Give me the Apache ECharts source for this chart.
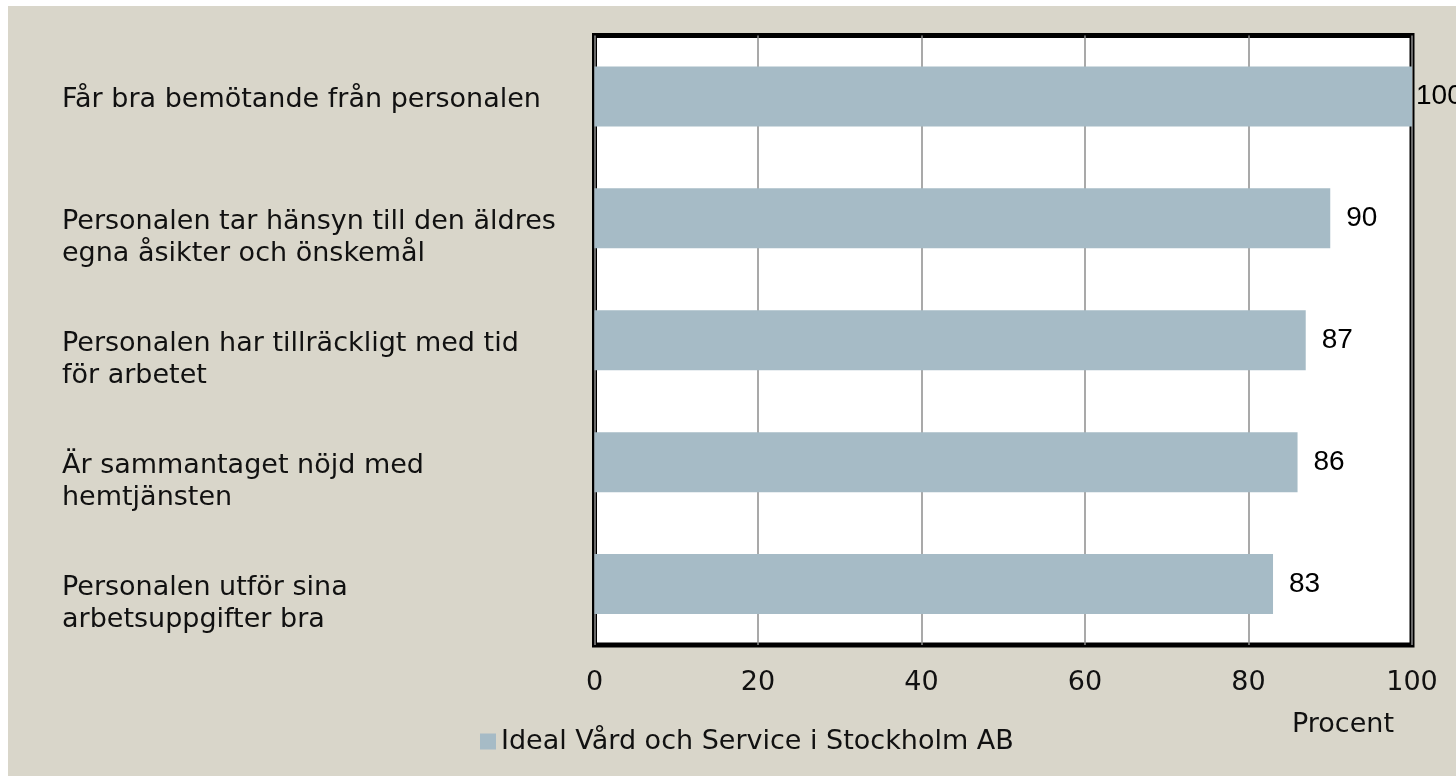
<!DOCTYPE html>
<html>
<head>
<meta charset="utf-8">
<script src="https://cdn.jsdelivr.net/npm/echarts@6/dist/echarts.min.js"></script>
<style>
    html, body { margin: 0; padding: 0; background: #ffffff; }
    #chart { position: absolute; left: 8px; top: 6px; width: 1448px; height: 770px; }
</style>
</head>
<body>
<div id="chart"></div>
<script>
// data
var categories = [
    'Får bra bemötande från personalen',
    'Personalen tar hänsyn till den äldres\negna åsikter och önskemål',
    'Personalen har tillräckligt med tid\nför arbetet',
    'Är sammantaget nöjd med\nhemtjänsten',
    'Personalen utför sina\narbetsuppgifter bra'
];
var values = [100, 90, 87, 86, 83];
var seriesName = 'Ideal Vård och Service i Stockholm AB';
var xTicks = [0, 20, 40, 60, 80, 100];

var chart = echarts.init(document.getElementById('chart'));

// label at the axis end sits close to the bar (like excel)
var barData = values.map(function (v) {
    if (v >= xTicks[xTicks.length - 1]) {
        return { value: v, label: { distance: 4 } };
    }
    return v;
});

var option = {
    backgroundColor: '#d9d6ca',
    animation: false,
    textStyle: { fontFamily: 'DejaVu Sans' },
    grid: {
        left: 586.5,
        top: 29.5,
        right: 44,
        bottom: 131,
        show: true,
        backgroundColor: '#ffffff',
        borderColor: '#000000',
        borderWidth: 5
    },
    legend: {
        data: [seriesName],
        left: 467,
        top: 717,
        icon: 'rect',
        itemWidth: 16,
        itemHeight: 16,
        textStyle: { fontSize: 27, color: '#111111', fontFamily: 'DejaVu Sans' }
    },
    graphic: [{
        type: 'text',
        left: 1284,
        top: 705,
        style: {
            text: 'Procent',
            font: '27px "DejaVu Sans"',
            fill: '#111111'
        }
    }],
    xAxis: {
        type: 'value',
        min: xTicks[0],
        max: xTicks[xTicks.length - 1],
        interval: 20,
        axisLine: { show: false },
        axisTick: { show: false },
        axisLabel: { fontSize: 27, color: '#111111', margin: 24, fontFamily: 'DejaVu Sans' },
        splitLine: { lineStyle: { color: '#8c8c8c', width: 1.5 } }
    },
    yAxis: {
        type: 'category',
        inverse: true,
        data: categories,
        axisLine: { show: false },
        axisTick: { show: false },
        axisLabel: {
            align: 'left',
            margin: 532.5,
            fontSize: 27,
            lineHeight: 32,
            color: '#111111',
            fontFamily: 'DejaVu Sans',
            verticalAlign: 'top',
            padding: [-12, 0, 0, 0]
        }
    },
    series: [{
        name: seriesName,
        type: 'bar',
        data: barData,
        barWidth: 60,
        itemStyle: { color: '#a6bbc6' },
        label: {
            show: true,
            position: 'right',
            distance: 16,
            fontSize: 28,
            color: '#000000',
            fontFamily: 'Liberation Sans'
        }
    }]
};

chart.setOption(option);
</script>
</body>
</html>
